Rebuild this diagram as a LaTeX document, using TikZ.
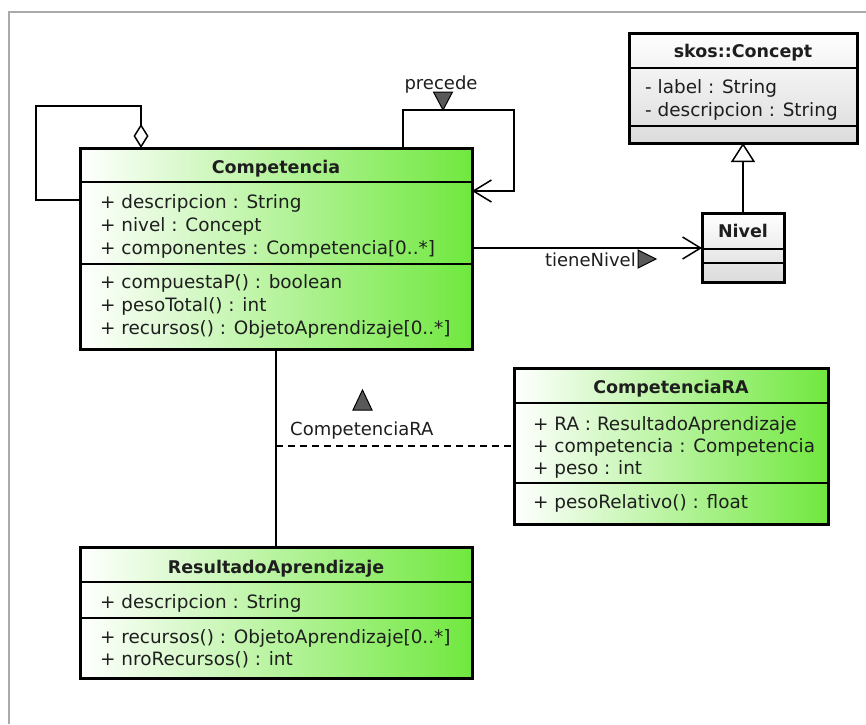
\documentclass[tikz,border=0pt]{standalone}
\usepackage{fontspec}
\setmainfont{DejaVu Sans}
\usetikzlibrary{arrows.meta}

\definecolor{cgreen}{RGB}{112,232,62}
\definecolor{framegray}{RGB}{170,170,170}
\definecolor{ink}{RGB}{30,30,30}

\tikzset{
  cls/.style={draw=black, line width=3pt, rectangle, inner sep=0pt, outer sep=0pt,
              anchor=north west, left color=white, right color=cgreen},
  gcls/.style={draw=black, line width=3pt, rectangle, inner sep=0pt, outer sep=0pt,
               anchor=north west, top color=white, bottom color=black!14},
  sepline/.style={draw=black, line width=1.5pt},
  member/.style={inner sep=0pt, anchor=base west, text=ink,
                 font=\fontsize{18.4}{22}\selectfont},
  ctitle/.style={inner sep=0pt, anchor=base, text=ink,
                 font=\bfseries\fontsize{17.5}{21}\selectfont},
  lbl/.style={inner sep=0pt, text=ink, font=\fontsize{18}{21}\selectfont},
  assoc/.style={draw=black, line width=1.5pt},
  navtri/.style={fill=black!65, draw=black, line width=1pt, line join=miter},
  openbarb/.style={-{Straight Barb[length=18pt,width=22pt,line width=1.5pt]}},
}

\begin{document}
\begin{tikzpicture}[x=1pt,y=-1pt]
\useasboundingbox (0,0) rectangle (866,724);
\fill[white] (0,0) rectangle (866,724);

% sheet frame
\draw[framegray, line width=2pt] (9,724) -- (9,12) -- (866,12);

% ---- class Competencia ----
\node[cls, minimum width=392pt, minimum height=201pt] (comp) at (80,148) {};
\draw[sepline] (80,182) -- (472,182);
\draw[sepline] (80,264) -- (472,264);
\node[ctitle] (compT) at (276,173) {Competencia};
\node[member] (compA1) at (100,208) {+ descripcion : String};
\node[member] (compA2) at (100,231) {+ nivel : Concept};
\node[member] (compA3) at (100,254) {+ componentes : Competencia[0..*]};
\node[member] (compO1) at (100,288) {+ compuestaP() : boolean};
\node[member] (compO2) at (100,311) {+ pesoTotal() : int};
\node[member] (compO3) at (100,334) {+ recursos() : ObjetoAprendizaje[0..*]};

% ---- class skos::Concept ----
\node[gcls, minimum width=228pt, minimum height=110pt] (skos) at (629,33) {};
\draw[sepline] (629,68) -- (857,68);
\draw[sepline] (629,126) -- (857,126);
\node[ctitle] (skosT) at (743,57) {skos::Concept};
\node[member] (skosA1) at (645,93) {- label : String};
\node[member] (skosA2) at (645,116) {- descripcion : String};

% ---- class Nivel ----
\node[gcls, minimum width=82pt, minimum height=69pt] (nivel) at (702,213) {};
\draw[sepline] (702,249) -- (784,249);
\draw[sepline] (702,263) -- (784,263);
\node[ctitle] (nivelT) at (743,237) {Nivel};

% ---- class CompetenciaRA ----
\node[cls, minimum width=314pt, minimum height=156pt] (cra) at (514,368) {};
\draw[sepline] (514,403) -- (828,403);
\draw[sepline] (514,483) -- (828,483);
\node[ctitle] (craT) at (671,393) {CompetenciaRA};
\node[member] (craA1) at (533,430) {+ RA : ResultadoAprendizaje};
\node[member] (craA2) at (533,452) {+ competencia : Competencia};
\node[member] (craA3) at (533,474) {+ peso : int};
\node[member] (craO1) at (533,508) {+ pesoRelativo() : float};

% ---- class ResultadoAprendizaje ----
\node[cls, minimum width=392pt, minimum height=131pt] (ra) at (80,547) {};
\draw[sepline] (80,582) -- (472,582);
\draw[sepline] (80,618) -- (472,618);
\node[ctitle] (raT) at (276,573) {ResultadoAprendizaje};
\node[member] (raA1) at (100,608) {+ descripcion : String};
\node[member] (raO1) at (100,643) {+ recursos() : ObjetoAprendizaje[0..*]};
\node[member] (raO2) at (100,665) {+ nroRecursos() : int};

% ---- connectors ----
% aggregation of Competencia with itself (componentes)
\coordinate (aggCorner) at (36,106);
\draw[assoc, {Diamond[open,length=24pt,width=15pt,line width=1.5pt]}-]
  ([xshift=61pt]comp.north west) |- (aggCorner) |- ([yshift=-52pt]comp.north west);

% precede: self association
\coordinate (precCorner) at (514,110);
\draw[assoc, openbarb]
  ([xshift=323pt]comp.north west) |- (precCorner) |- ([yshift=-43pt]comp.north east);
\node[lbl, anchor=base] (precLbl) at (441,89) {precede};
\filldraw[navtri] (433.5,92) -- (452.5,92) -- (443,110) -- cycle;

% tieneNivel association
\draw[assoc, openbarb]
  ([yshift=-100pt]comp.north east) -- ([yshift=-100pt]comp.north east -| nivel.west);
\node[lbl, anchor=base east] (tieneLbl) at (636,266) {tieneNivel};
\filldraw[navtri] (638,250) -- (638,268) -- (656,259) -- cycle;

% generalization Nivel -> skos::Concept
\draw[assoc, -{Triangle[open,length=19pt,width=24pt,line width=1.5pt]}]
  (nivel.north) -- (skos.south);

% association Competencia -- ResultadoAprendizaje with class CompetenciaRA
\draw[assoc] (comp.south) -- (ra.north);
\draw[assoc, dash pattern=on 7pt off 5pt] (comp.south |- cra.west) -- (cra.west);
\node[lbl, anchor=base west] (craLbl) at (290,435) {CompetenciaRA};
\filldraw[navtri] (353,410) -- (372,410) -- (362.5,390) -- cycle;

\end{tikzpicture}
\end{document}
